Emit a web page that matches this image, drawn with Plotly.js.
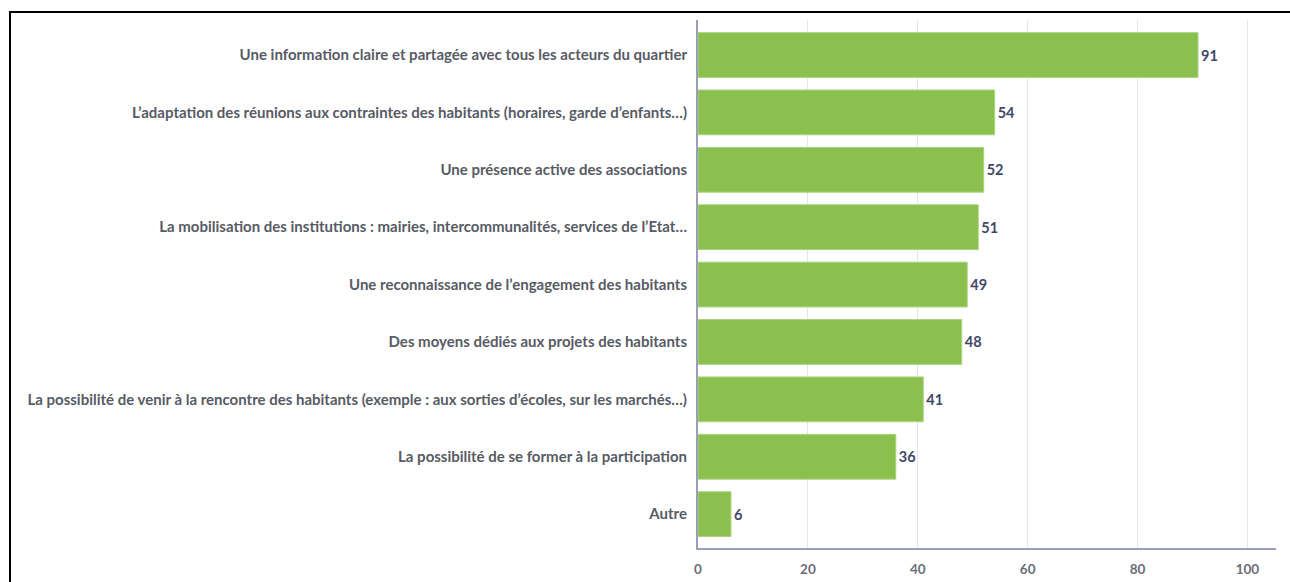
<!DOCTYPE html>
<html>
<head>
<meta charset="utf-8">
<script src="https://cdn.plot.ly/plotly-3.0.1.min.js"></script>
<style>
html,body{margin:0;padding:0;background:#fff;overflow:hidden;}
#chart{position:absolute;left:0;top:0;width:1290px;height:582px;}
#frame{position:absolute;left:9px;top:11px;width:1300px;height:620px;border:2.5px solid #000;box-sizing:border-box;pointer-events:none;}
</style>
</head>
<body>
<div id="chart"></div>
<div id="frame"></div>
<script>
const categories = [
  "Une information claire et partagée avec tous les acteurs du quartier",
  "L’adaptation des réunions aux contraintes des habitants (horaires, garde d’enfants…)",
  "Une présence active des associations",
  "La mobilisation des institutions : mairies, intercommunalités, services de l’Etat…",
  "Une reconnaissance de l’engagement des habitants",
  "Des moyens dédiés aux projets des habitants",
  "La possibilité de venir à la rencontre des habitants (exemple : aux sorties d’écoles, sur les marchés…)",
  "La possibilité de se former à la participation",
  "Autre"
];
const values = [91, 54, 52, 51, 49, 48, 41, 36, 6];
const xTicks = [0, 20, 40, 60, 80, 100];

const trace = {
  type: 'bar',
  orientation: 'h',
  y: categories,
  x: values,
  text: values.map(String),
  textposition: 'outside',
  cliponaxis: false,
  textfont: {family: 'Lato', size: 14.5, color: '#3f4766', weight: 'bold'},
  marker: {color: '#8bc04f', line: {color: '#a9d47e', width: 1}},
  hoverinfo: 'x+y'
};

const layout = {
  width: 1290, height: 582,
  margin: {l: 698, r: 14, t: 20, b: 34},
  paper_bgcolor: '#fff', plot_bgcolor: '#fff',
  bargap: 0.22,
  showlegend: false,
  font: {family: 'Lato', size: 13, color: '#555a63'},
  xaxis: {
    range: [0, 105.2],
    tickvals: xTicks,
    ticktext: xTicks.map(String),
    showgrid: true, gridcolor: '#e6e6e6', gridwidth: 1,
    zeroline: false,
    showline: true, linecolor: '#9a9fb6', linewidth: 2,
    ticks: '', ticklabelstandoff: 8,
    tickfont: {family: 'Lato', size: 13.5, color: '#6a6d78', weight: 'bold'},
    fixedrange: true
  },
  yaxis: {
    type: 'category',
    range: [8.59, -0.61],
    showgrid: false, zeroline: false,
    showline: true, linecolor: '#9a9fb6', linewidth: 2,
    ticks: '', ticklabelstandoff: 6,
    tickfont: {family: 'Lato', size: 15, color: '#575b64', weight: 'bold'},
    fixedrange: true
  }
};

Plotly.newPlot('chart', [trace], layout, {displayModeBar: false, staticPlot: true});
</script>
</body>
</html>
